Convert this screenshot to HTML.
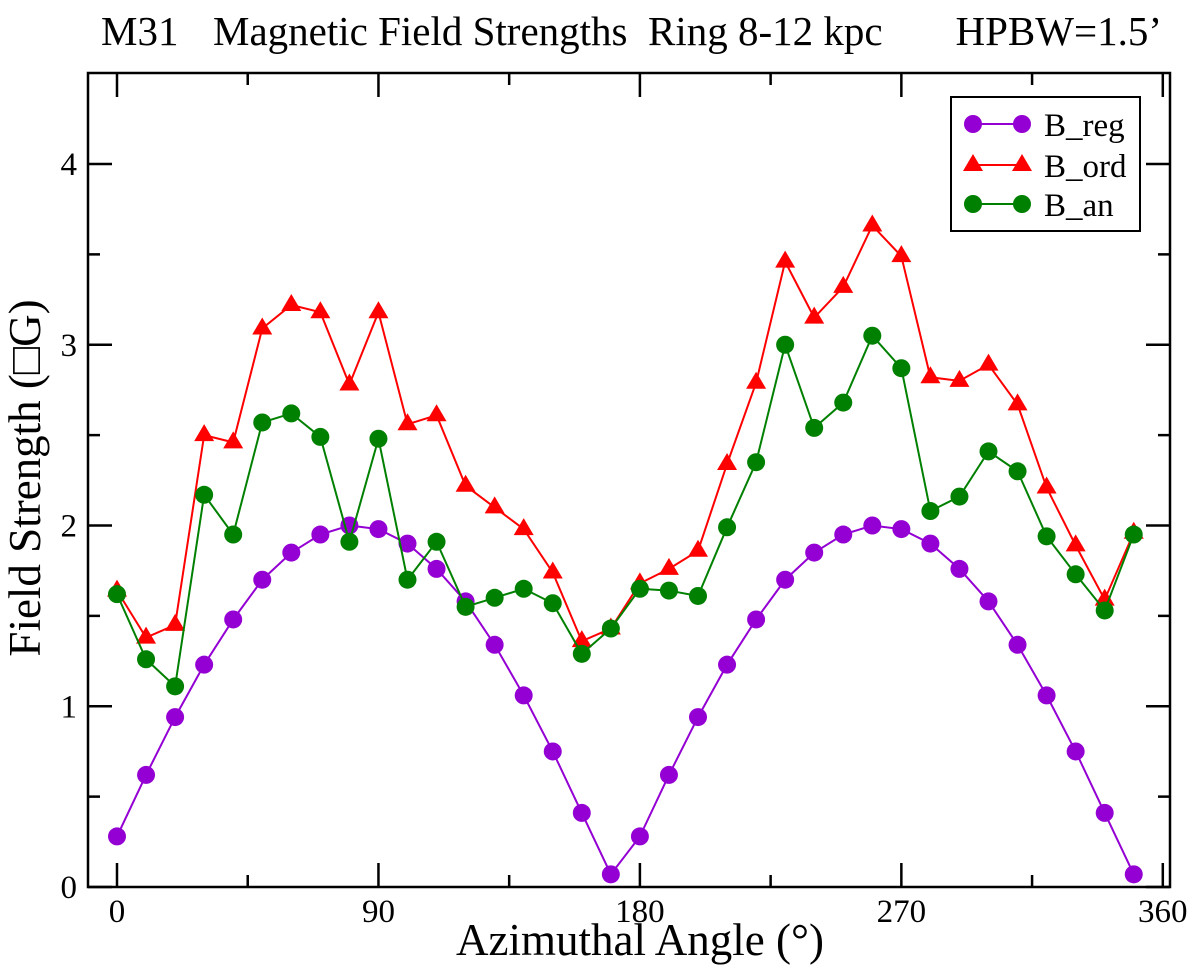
<!DOCTYPE html>
<html><head><meta charset="utf-8"><style>
html,body{margin:0;padding:0;background:#fff}
svg{display:block;font-family:"Liberation Serif","DejaVu Serif",serif}
</style></head><body>
<svg id="chart" width="1200" height="977" viewBox="0 0 1200 977" xmlns="http://www.w3.org/2000/svg">
<g>
<text x="101" y="45" font-size="41">M31</text>
<text x="213" y="45" font-size="41" xml:space="preserve">Magnetic Field Strengths  Ring 8-12 kpc</text>
<text x="1162" y="45" font-size="41" text-anchor="end">HPBW=1.5’</text>
</g>
<rect x="88" y="73" width="1082" height="814" fill="none" stroke="#000" stroke-width="2.5"/>
<g id="ticks"></g>
<g id="series"></g>
<text x="640" y="955" font-size="45" text-anchor="middle">Azimuthal Angle (°)</text>
<text transform="translate(40,478) rotate(-90)" font-size="45" text-anchor="middle">Field Strength (□G)</text>
<g>
<rect x="951" y="97" width="189" height="134" fill="#fff" stroke="#000" stroke-width="2"/>
<g>
<line x1="973" y1="124" x2="1022" y2="124" stroke="#9400d3" stroke-width="2"/><circle cx="973" cy="124" r="9" fill="#9400d3"/><circle cx="1022" cy="124" r="9" fill="#9400d3"/>
<text x="1044" y="136" font-size="33">B_reg</text></g>
<g>
<line x1="973" y1="165" x2="1022" y2="165" stroke="#ff0000" stroke-width="2"/><polygon points="973,154 983,171 963,171" fill="#ff0000"/><polygon points="1022,154 1032,171 1012,171" fill="#ff0000"/>
<text x="1044" y="177" font-size="33">B_ord</text></g>
<g>
<line x1="973" y1="204" x2="1022" y2="204" stroke="#008000" stroke-width="2"/><circle cx="973" cy="204" r="9" fill="#008000"/><circle cx="1022" cy="204" r="9" fill="#008000"/>
<text x="1044" y="216" font-size="33">B_an</text></g>
</g>
</svg>
<script>
const angles=[0,10,20,30,40,50,60,70,80,90,100,110,120,130,140,150,160,170,180,190,200,210,220,230,240,250,260,270,280,290,300,310,320,330,340,350];
const bReg=[0.28,0.62,0.94,1.23,1.48,1.70,1.85,1.95,2.0,1.98,1.90,1.76,1.58,1.34,1.06,0.75,0.41,0.07,0.28,0.62,0.94,1.23,1.48,1.70,1.85,1.95,2.0,1.98,1.90,1.76,1.58,1.34,1.06,0.75,0.41,0.07];
const bOrd=[1.64,1.38,1.45,2.50,2.46,3.09,3.22,3.18,2.78,3.18,2.56,2.61,2.22,2.10,1.98,1.74,1.36,1.43,1.68,1.76,1.86,2.34,2.79,3.46,3.15,3.32,3.66,3.49,2.82,2.80,2.89,2.67,2.21,1.89,1.59,1.96];
const bAn=[1.62,1.26,1.11,2.17,1.95,2.57,2.62,2.49,1.91,2.48,1.70,1.91,1.55,1.60,1.65,1.57,1.29,1.43,1.65,1.64,1.61,1.99,2.35,3.00,2.54,2.68,3.05,2.87,2.08,2.16,2.41,2.30,1.94,1.73,1.53,1.95];
const xMajor=[0,90,180,270,360];
const xMinor=[45,135,225,315];
const yMajor=[0,1,2,3,4];
const yMinor=[0.5,1.5,2.5,3.5];
const NS='http://www.w3.org/2000/svg';
const X=v=>117+v*2.905;
const Y=v=>887-v*180.75;
const L=88,R=1170,T=73,B=887;
const tg=document.getElementById('ticks');
function mk(tag,attrs,parent){const e=document.createElementNS(NS,tag);for(const k in attrs)e.setAttribute(k,attrs[k]);parent.appendChild(e);return e;}
function tick(x1,y1,x2,y2){const l=mk('line',{x1,y1,x2,y2,stroke:'#000','stroke-width':2.5},tg);

}
xMajor.forEach(v=>{const x=X(v);tick(x,B,x,B-24);tick(x,T,x,T+24);
const t=mk('text',{x:x,y:922,'font-size':33,'text-anchor':'middle'},tg);t.textContent=v;

});
xMinor.forEach(v=>{const x=X(v);tick(x,B,x,B-12);tick(x,T,x,T+12);});
yMajor.forEach(v=>{const y=Y(v);tick(L,y,L+24,y);tick(R,y,R-24,y);
const t=mk('text',{x:77,y:y+11,'font-size':33,'text-anchor':'end'},tg);t.textContent=v;

});
yMinor.forEach(v=>{const y=Y(v);tick(L,y,L+12,y);tick(R,y,R-12,y);});
const sg=document.getElementById('series');
function series(vals,color,name,tri){
const g=mk('g',{},sg);


const pts=vals.map((v,i)=>X(angles[i])+','+Y(v)).join(' ');
const pl=mk('polyline',{points:pts,fill:'none',stroke:color,'stroke-width':2},g);


vals.forEach((v,i)=>{const x=X(angles[i]),y=Y(v);let m;
if(tri){m=mk('polygon',{points:`${x},${y-11} ${x+10},${y+6} ${x-10},${y+6}`,fill:color},g);}
else{m=mk('circle',{cx:x,cy:y,r:9,fill:color},g);}

});
}
series(bReg,'#9400d3','b-reg',false);
series(bOrd,'#ff0000','b-ord',true);
series(bAn,'#008000','b-an',false);
</script>
</body></html>
